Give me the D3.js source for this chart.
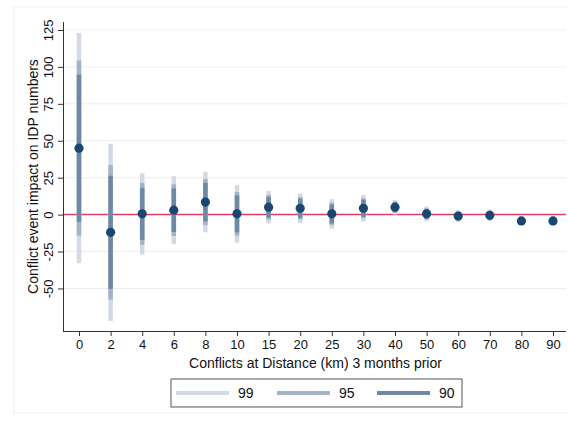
<!DOCTYPE html>
<html><head><meta charset="utf-8">
<script src="https://cdn.jsdelivr.net/npm/d3@7"></script>
<style>body{margin:0;background:#fff}svg{display:block;font-family:"Liberation Sans",Arial,sans-serif}</style>
</head><body><svg id="c" width="568" height="421"></svg>
<script>
const categories = ["0","2","4","6","8","10","15","20","25","30","40","50","60","70","80","90"];
const coef  = [45, -12, 0.5, 3, 8.5, 0.5, 5, 4.3, 0.5, 4.3, 5, 0.5, -1, -0.5, -4.3, -4.3];
const lo99  = [-33, -72, -27, -20, -12, -19, -6, -5.7, -9.5, -4.7, 0, -4.5, -5, -4.5, -7.3, -7.3];
const hi99  = [123, 48, 28, 26, 29, 20, 16, 14.3, 10.5, 13.3, 10, 5.5, 3, 3.5, -1.3, -1.3];
const lo95  = [-14.3, -57.6, -20.4, -14.5, -7.1, -14.3, -3.4, -3.3, -7.1, -2.5, 1.2, -3.3, -4, -3.5, -6.6, -6.6];
const hi95  = [104.3, 33.6, 21.4, 20.5, 24.1, 15.3, 13.4, 11.9, 8.1, 11.1, 8.8, 4.3, 2, 2.5, -2, -2];
const lo90  = [-4.8, -50.3, -17.1, -11.7, -4.6, -12, -2, -2.1, -5.9, -1.5, 1.8, -2.7, -3.6, -3.1, -6.2, -6.2];
const hi90  = [94.8, 26.3, 18.1, 17.7, 21.6, 13, 12, 10.7, 6.9, 10.1, 8.2, 3.7, 1.6, 2.1, -2.4, -2.4];
const yTicks = [-50, -25, 0, 25, 50, 75, 100, 125];
const legendLabels = ["99", "95", "90"];

const colors = {c99:"#d2dbe5", c95:"#a3b4c7", c90:"#6f88a5", pt:"#1a476f", ref:"#dd3d66"};
const svg = d3.select("#c");
const L = 63, R = 566, T = 22, B = 331;

svg.append("rect").attr("x",14).attr("y",7).attr("width",600).attr("height",406)
  .attr("fill","none").attr("stroke","#f0f0f0");

const x = d3.scalePoint().domain(categories).range([79, 553]);
const y = d3.scaleLinear().domain([-78.8, 130.4]).range([B, T]);

svg.append("g").selectAll("line").data(yTicks).join("line")
  .attr("x1", L).attr("x2", R).attr("y1", d=>y(d)).attr("y2", d=>y(d))
  .attr("stroke", "#eaeef2").attr("stroke-width", 1);

svg.append("line").attr("x1", L).attr("x2", R).attr("y1", y(0)).attr("y2", y(0))
  .attr("stroke", colors.ref).attr("stroke-width", 1.5);

const data = categories.map((c,i)=>({c, b:coef[i], l99:lo99[i], h99:hi99[i], l95:lo95[i], h95:hi95[i], l90:lo90[i], h90:hi90[i]}));
[["l99","h99",colors.c99],["l95","h95",colors.c95],["l90","h90",colors.c90]].forEach(([lo,hi,col])=>{
  svg.append("g").selectAll("line").data(data).join("line")
    .attr("x1", d=>x(d.c)).attr("x2", d=>x(d.c))
    .attr("y1", d=>y(d[lo])).attr("y2", d=>y(d[hi]))
    .attr("stroke", col).attr("stroke-width", 4.5);
});
svg.append("g").selectAll("circle").data(data).join("circle")
  .attr("cx", d=>x(d.c)).attr("cy", d=>y(d.b)).attr("r", 4.6).attr("fill", colors.pt);

const xAxis = svg.append("g").attr("transform",`translate(0,${B})`)
  .call(d3.axisBottom(x).tickSize(5).tickPadding(4));
xAxis.select(".domain").attr("d", `M${L},0.5H${R}`).attr("stroke","#333");
xAxis.selectAll("text").attr("font-size", 13).attr("fill","#111").attr("font-family","inherit");
xAxis.selectAll(".tick line").attr("stroke","#333");

const yAxis = svg.append("g").attr("transform",`translate(${L},0)`)
  .call(d3.axisLeft(y).tickValues(yTicks).tickFormat(d=>String(d)).tickSize(5).tickPadding(3));
yAxis.select(".domain").attr("d", `M0.5,${T}V${B}`).attr("stroke","#333");
yAxis.selectAll(".tick line").attr("stroke","#333");
yAxis.selectAll("text").attr("font-size", 13).attr("fill","#111").attr("font-family","inherit")
  .attr("text-anchor","middle").attr("x",null).attr("dy",null)
  .attr("transform","translate(-15,0) rotate(-90)").attr("dy","0.35em");

svg.append("text").attr("x", (L+R)/2 + 1).attr("y", 368).attr("text-anchor","middle")
  .attr("font-size", 14).attr("fill","#111").text("Conflicts at Distance (km) 3 months prior");
svg.append("text").attr("transform", `translate(38,${(T+B)/2}) rotate(-90)`).attr("text-anchor","middle")
  .attr("font-size", 14).attr("fill","#111").text("Conflict event impact on IDP numbers");

const lg = svg.append("g");
lg.append("rect").attr("x",171).attr("y",379).attr("width",291).attr("height",28)
  .attr("fill","#fff").attr("stroke","#555").attr("stroke-width",1);
const legCols = [colors.c99, colors.c95, colors.c90];
const legX = [176, 277, 377];
legendLabels.forEach((t,i)=>{
  lg.append("line").attr("x1",legX[i]).attr("x2",legX[i]+53).attr("y1",393).attr("y2",393)
    .attr("stroke",legCols[i]).attr("stroke-width",4);
  lg.append("text").attr("x",legX[i]+62).attr("y",398).attr("font-size",14).attr("fill","#111").text(t);
});
</script></body></html>
